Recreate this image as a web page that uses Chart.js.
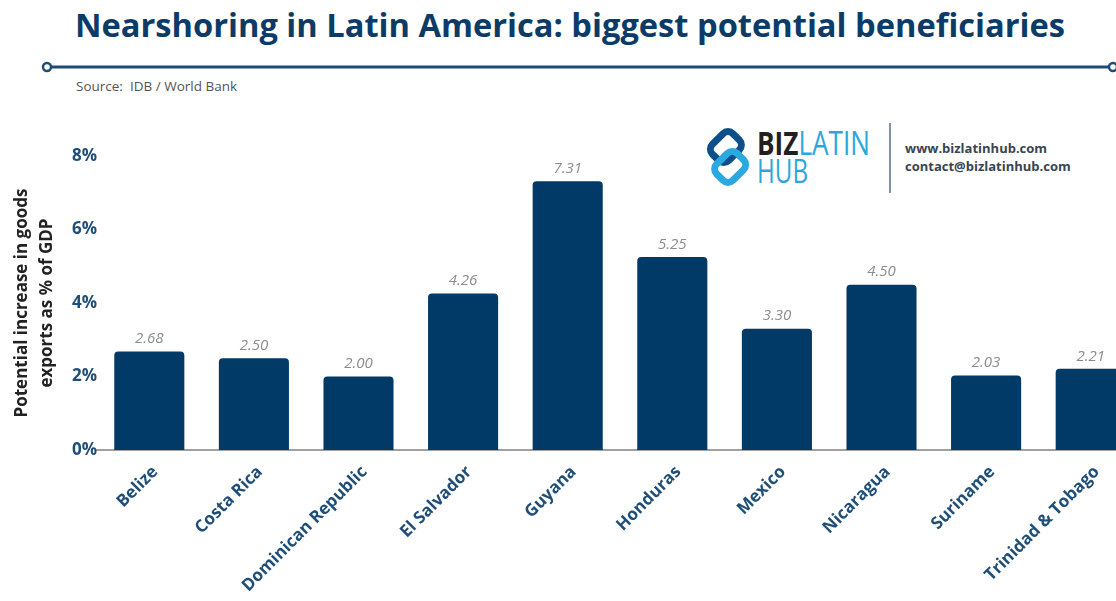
<!DOCTYPE html>
<html>
<head>
<meta charset="utf-8">
<title>Nearshoring in Latin America</title>
<script src="https://cdn.jsdelivr.net/npm/chart.js@4"></script>
<style>
  html, body { margin: 0; padding: 0; background: #fff; }
  body { width: 1116px; height: 601px; overflow: hidden; position: relative; font-family: "Open Sans", sans-serif; }
  #header { position: absolute; left: 0; top: 0; }
  #chartBox { position: absolute; left: 0; top: 0; width: 1143px; height: 601px; }
  .source { position: absolute; left: 76px; top: 77px; font-size: 13.5px; color: #555; }
  .contact { position: absolute; left: 905px; top: 139px; font-size: 13px; font-weight: 700; color: #3b4451; line-height: 18px; }
  .sep { position: absolute; left: 889px; top: 123px; width: 2px; height: 70px; background: #7f92aa; }
</style>
</head>
<body>

<svg id="header" width="1116" height="200">
  <text x="75" y="37" textLength="990" lengthAdjust="spacingAndGlyphs"
        font-family="Open Sans" font-weight="700" font-size="33" fill="#0c3b67">Nearshoring in Latin America: biggest potential beneficiaries</text>
  <line x1="51" y1="67" x2="1109" y2="67" stroke="#1d4c78" stroke-width="3"/>
  <circle cx="47" cy="67" r="4" fill="#fff" stroke="#1d4c78" stroke-width="2.5"/>
  <circle cx="1113" cy="67" r="4" fill="#fff" stroke="#1d4c78" stroke-width="2.5"/>

  <!-- logo mark: two linked rounded squares -->
  <g transform="translate(728 157) rotate(45)">
    <rect x="-20" y="-20" width="23" height="29" rx="7" fill="none" stroke="#0d4f8b" stroke-width="7"/>
    <rect x="-3" y="-9" width="23" height="29" rx="7" fill="none" stroke="#2ba8df" stroke-width="7"/>
  </g>
  <text x="757" y="155" textLength="113" lengthAdjust="spacingAndGlyphs" font-family="Open Sans" font-size="32" font-weight="700" fill="#231f20">BIZ<tspan fill="#2aa8dc" font-weight="400">LATIN</tspan></text>
  <text x="757" y="183" textLength="51" lengthAdjust="spacingAndGlyphs" font-family="Open Sans" font-size="32" font-weight="400" fill="#2aa8dc">HUB</text>
</svg>

<div class="source">Source:&nbsp; IDB / World Bank</div>
<div class="sep"></div>
<div class="contact">www.bizlatinhub.com<br>contact@bizlatinhub.com</div>

<div id="chartBox"><canvas id="nearshoring"></canvas></div>

<script>
const countries = ['Belize', 'Costa Rica', 'Dominican Republic', 'El Salvador', 'Guyana',
  'Honduras', 'Mexico', 'Nicaragua', 'Suriname', 'Trinidad & Tobago'];
const exportIncrease = [2.68, 2.50, 2.00, 4.26, 7.31, 5.25, 3.30, 4.50, 2.03, 2.21];
const yTicks = [0, 2, 4, 6, 8];

const navy = '#023a67';
const tickBlue = '#1f4e79';

// writes the value above every bar
const barValues = {
  id: 'barValues',
  afterDatasetsDraw(chart) {
    const c = chart.ctx;
    const meta = chart.getDatasetMeta(0);
    c.save();
    c.font = 'italic 15px "Open Sans"';
    c.fillStyle = '#8c8c8c';
    c.textAlign = 'center';
    c.textBaseline = 'bottom';
    meta.data.forEach((bar, i) => {
      c.fillText(exportIncrease[i].toFixed(2), bar.x, bar.y - 5);
    });
    c.restore();
  }
};

new Chart(document.getElementById('nearshoring'), {
  type: 'bar',
  data: {
    labels: countries,
    datasets: [{
      data: exportIncrease,
      backgroundColor: navy,
      borderRadius: { topLeft: 4, topRight: 4 },
      borderSkipped: 'bottom',
      categoryPercentage: 1,
      barPercentage: 0.67
    }]
  },
  options: {
    responsive: true,
    maintainAspectRatio: false,
    animation: false,
    layout: { padding: { top: 156, left: 0, right: 0, bottom: 0 } },
    plugins: {
      legend: { display: false },
      tooltip: { enabled: false }
    },
    scales: {
      x: {
        grid: { display: false },
        border: { color: '#a0a0a0', width: 2 },
        ticks: {
          color: tickBlue,
          font: { family: 'Open Sans', weight: 'bold', size: 17 },
          maxRotation: 45,
          minRotation: 45,
          autoSkip: false,
          padding: 4,
          labelOffset: 6
        },
        afterFit(scale) { scale.height = 151; }
      },
      y: {
        min: 0,
        max: 8,
        grid: { display: false },
        border: { display: false },
        afterBuildTicks(scale) { scale.ticks = yTicks.map(v => ({ value: v })); },
        ticks: {
          color: tickBlue,
          font: { family: 'Open Sans', weight: 'bold', size: 17 },
          padding: -8,
          callback: v => v + '%'
        },
        title: {
          display: true,
          text: ['Potential increase in goods', 'exports as % of GDP'],
          color: '#222',
          font: { family: 'Open Sans', weight: 'bold', size: 17, lineHeight: 1.45 },
          padding: { top: 10, bottom: 0 }
        },
        afterFit(scale) { scale.width = 97; }
      }
    }
  },
  plugins: [barValues]
});
</script>
</body>
</html>
